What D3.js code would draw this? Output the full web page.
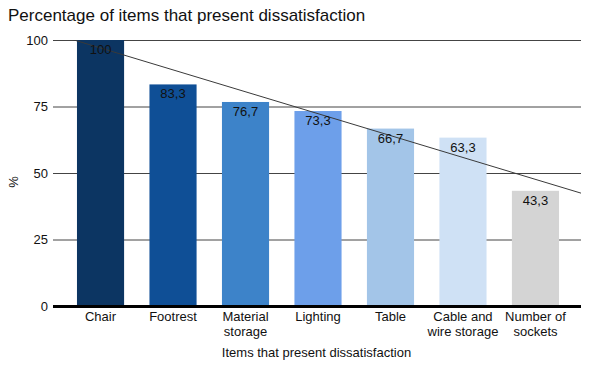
<!DOCTYPE html>
<html>
<head>
<meta charset="utf-8">
<script src="https://cdn.jsdelivr.net/npm/d3@7"></script>
<style>
  body { margin: 0; background: #fff; }
  svg text { font-family: "Liberation Sans", Arial, sans-serif; }
</style>
</head>
<body>
<div id="chart"></div>
<script>
var categories = ["Chair", "Footrest", "Material storage", "Lighting", "Table", "Cable and wire storage", "Number of sockets"];
var tickLines = [["Chair"], ["Footrest"], ["Material", "storage"], ["Lighting"], ["Table"], ["Cable and", "wire storage"], ["Number of", "sockets"]];
var values = [100, 83.3, 76.7, 73.3, 66.7, 63.3, 43.3];
var barColors = ["#0c3562", "#0f4f96", "#3d83c9", "#6d9fea", "#a3c5e8", "#cfe1f5", "#d4d4d4"];
var yTicks = [0, 25, 50, 75, 100];
// trend line read at the first and last category
var trendStart = 97.0;
var trendEnd = 47.6;

var width = 595, height = 365;
var margin = { top: 40, right: 15, bottom: 59, left: 53 };

var svg = d3.select("#chart").append("svg")
    .attr("width", width)
    .attr("height", height);

var x = d3.scaleBand()
    .domain(categories)
    .range([margin.left + 1.5, width - margin.right + 1.5])
    .paddingInner(0.35)
    .paddingOuter(0.31);

var y = d3.scaleLinear()
    .domain([0, 100])
    .range([height - margin.bottom, margin.top]);

// title
svg.append("text")
    .attr("x", 8)
    .attr("y", 21)
    .attr("font-size", 17)
    .attr("fill", "#111")
    .text("Percentage of items that present dissatisfaction");

// gridlines
svg.append("g").selectAll("line")
    .data(yTicks.slice(1))
    .enter().append("line")
    .attr("x1", margin.left)
    .attr("x2", width - margin.right + 1)
    .attr("y1", function(d) { return y(d) + 0.5; })
    .attr("y2", function(d) { return y(d) + 0.5; })
    .attr("stroke", "#444")
    .attr("stroke-width", 1);

// y tick labels
svg.append("g").selectAll("text")
    .data(yTicks)
    .enter().append("text")
    .attr("x", margin.left - 5)
    .attr("y", function(d) { return y(d); })
    .attr("dy", "0.35em")
    .attr("text-anchor", "end")
    .attr("font-size", 13)
    .attr("fill", "#111")
    .text(function(d) { return d; });

// bars
svg.append("g").selectAll("rect")
    .data(values)
    .enter().append("rect")
    .attr("x", function(d, i) { return x(categories[i]); })
    .attr("y", function(d) { return y(d); })
    .attr("width", x.bandwidth())
    .attr("height", function(d) { return y(0) - y(d); })
    .attr("fill", function(d, i) { return barColors[i]; });

// trend line, extended across the plot and clipped at 100
svg.append("clipPath").attr("id", "plotclip")
    .append("rect")
    .attr("x", margin.left)
    .attr("y", margin.top)
    .attr("width", width - margin.right + 1 - margin.left)
    .attr("height", y(0) - margin.top);

var cx0 = x(categories[0]) + x.bandwidth() / 2;
var cx1 = x(categories[categories.length - 1]) + x.bandwidth() / 2;
var slope = (trendEnd - trendStart) / (cx1 - cx0);
var lx0 = margin.left, lx1 = width - margin.right + 1;

svg.append("line")
    .attr("clip-path", "url(#plotclip)")
    .attr("x1", lx0)
    .attr("y1", y(trendStart + slope * (lx0 - cx0)))
    .attr("x2", lx1)
    .attr("y2", y(trendStart + slope * (lx1 - cx0)))
    .attr("stroke", "#3a3a3a")
    .attr("stroke-width", 1);

// value labels
svg.append("g").selectAll("text")
    .data(values)
    .enter().append("text")
    .attr("x", function(d, i) { return x(categories[i]) + x.bandwidth() / 2; })
    .attr("y", function(d) { return y(d) + 14; })
    .attr("text-anchor", "middle")
    .attr("font-size", 13)
    .attr("fill", "#111")
    .text(function(d) { return String(d).replace(".", ","); });

// baseline
svg.append("line")
    .attr("x1", margin.left)
    .attr("x2", width - margin.right + 1)
    .attr("y1", y(0) + 0.5)
    .attr("y2", y(0) + 0.5)
    .attr("stroke", "#000")
    .attr("stroke-width", 3);

// x tick labels
var xl = svg.append("g").selectAll("text")
    .data(tickLines)
    .enter().append("text")
    .attr("x", function(d, i) { return x(categories[i]) + x.bandwidth() / 2; })
    .attr("y", y(0) + 15)
    .attr("text-anchor", "middle")
    .attr("font-size", 13)
    .attr("fill", "#111");
xl.selectAll("tspan")
    .data(function(d) { return d; })
    .enter().append("tspan")
    .attr("x", function() { return d3.select(this.parentNode).attr("x"); })
    .attr("dy", function(d, i) { return i === 0 ? 0 : 15; })
    .text(function(d) { return d; });

// axis titles
svg.append("text")
    .attr("x", (margin.left + width - margin.right) / 2)
    .attr("y", 357)
    .attr("text-anchor", "middle")
    .attr("font-size", 13)
    .attr("fill", "#111")
    .text("Items that present dissatisfaction");

svg.append("text")
    .attr("transform", "translate(18,182) rotate(-90)")
    .attr("text-anchor", "middle")
    .attr("font-size", 13)
    .attr("fill", "#111")
    .text("%");
</script>
</body>
</html>
